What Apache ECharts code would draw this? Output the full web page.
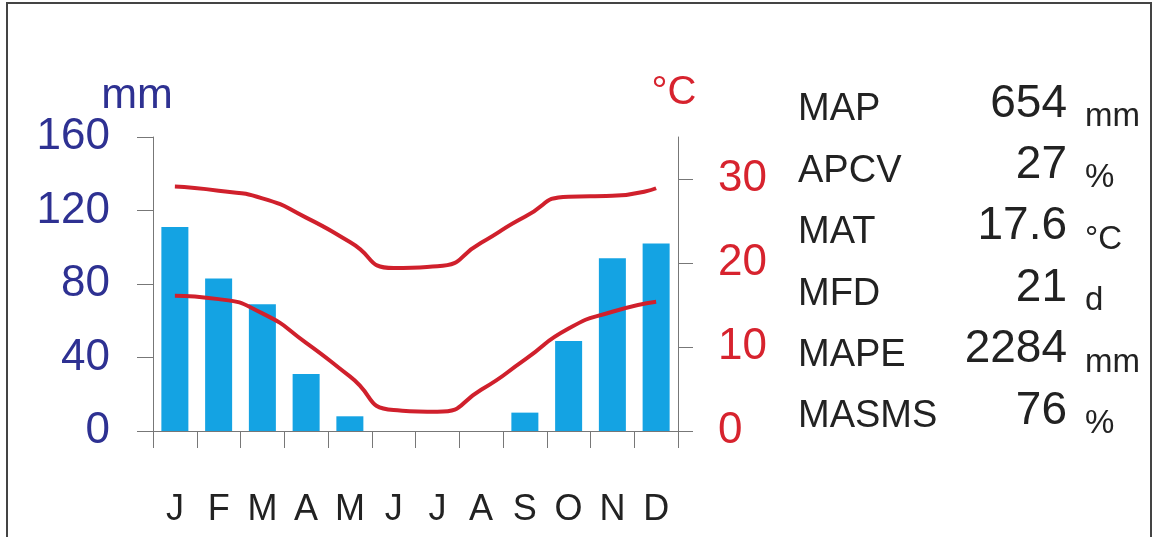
<!DOCTYPE html>
<html lang="en">
<head>
<meta charset="UTF-8" />
<title>Climate diagram</title>
<script src="https://cdn.jsdelivr.net/npm/echarts@6/dist/echarts.min.js"></script>
<style>
  html, body { margin: 0; padding: 0; background: #fff; }
  #app { width: 1157px; height: 537px; }
</style>
</head>
<body>
<div id="app"></div>
<script>
  // monthly values
  const months = ["J", "F", "M", "A", "M", "J", "J", "A", "S", "O", "N", "D"];
  const rain = [111, 83, 69, 31, 8, 0, 0, 0, 10, 49, 94, 102];
  const tMax = [29.1, 28.6, 27.7, 25.4, 22.5, 19.4, 19.6, 22.4, 25.5, 27.9, 28.0, 28.9];
  const tMin = [16.1, 15.7, 14.0, 10.5, 6.5, 2.5, 2.3, 4.9, 8.5, 12.2, 14.2, 15.4];
  const tempTicks = [0, 10, 20, 30];

  // summary block on the right
  const statNames = ["MAP", "APCV", "MAT", "MFD", "MAPE", "MASMS"];
  const statValues = ["654", "27", "17.6", "21", "2284", "76"];
  const statUnits = ["mm", "%", "°C", "d", "mm", "%"];

  const font = "Liberation Sans, Arial, Helvetica, sans-serif";
  const navy = "#2e3192";
  const red = "#d7232e";
  const lineRed = "#d0202c";
  const axisGray = "#777";

  const chart = echarts.init(document.getElementById("app"));

  // text blocks (units + stats)
  const graphics = [
    {
      type: "rect",
      shape: { x: 7, y: 3, width: 1144, height: 600 },
      style: { fill: "none", stroke: "#444", lineWidth: 2 },
      silent: true,
    },
    {
      type: "text", x: 137, y: 96,
      style: { text: "mm", fill: navy, fontSize: 43, fontFamily: font, align: "center", verticalAlign: "middle" },
    },
    {
      type: "text", x: 674, y: 93,
      style: { text: "°C", fill: red, fontSize: 40, fontFamily: font, align: "center", verticalAlign: "middle" },
    },
  ];
  statNames.forEach((name, i) => {
    const base = 123 + i * 61.4;
    graphics.push({
      type: "text", x: 798, y: base - 13,
      style: { text: name, fill: "#222", fontSize: 38, fontFamily: font, align: "left", verticalAlign: "middle" },
    });
    graphics.push({
      type: "text", x: 1067, y: base - 19,
      style: { text: statValues[i], fill: "#222", fontSize: 46, fontFamily: font, align: "right", verticalAlign: "middle" },
    });
    graphics.push({
      type: "text", x: 1085, y: base - 6,
      style: { text: statUnits[i], fill: "#222", fontSize: 33, fontFamily: font, align: "left", verticalAlign: "middle" },
    });
  });

  chart.setOption({
    animation: false,
    textStyle: { fontFamily: font },
    grid: { left: 153, right: 479, top: 137, bottom: 106 },
    xAxis: {
      type: "category",
      data: months,
      boundaryGap: true,
      axisLine: { lineStyle: { color: axisGray, width: 1 } },
      axisTick: { show: true, length: 17, lineStyle: { color: axisGray } },
      axisLabel: { color: "#222", fontSize: 36, margin: 61, fontFamily: font },
    },
    yAxis: [
      {
        type: "value",
        position: "left",
        min: 0,
        max: 160,
        interval: 40,
        splitLine: { show: false },
        axisLine: { show: true, lineStyle: { color: axisGray } },
        axisTick: { show: true, length: 16, lineStyle: { color: axisGray } },
        axisLabel: { color: navy, fontSize: 44, margin: 43, fontFamily: font },
      },
      {
        type: "value",
        position: "right",
        min: 0,
        max: 35,
        interval: 10,
        splitLine: { show: false },
        axisLine: { show: true, lineStyle: { color: axisGray } },
        axisTick: { show: true, length: 15, customValues: tempTicks, lineStyle: { color: axisGray } },
        axisLabel: {
          color: red, fontSize: 44, margin: 40, fontFamily: font,
          customValues: tempTicks,
          formatter: (v) => (v > 30 ? "" : v),
        },
      },
    ],
    series: [
      {
        type: "bar",
        yAxisIndex: 0,
        data: rain,
        barWidth: 27,
        itemStyle: { color: "#14a3e3" },
      },
      {
        type: "line",
        yAxisIndex: 1,
        data: tMax,
        smooth: 0.6,
        symbol: "none",
        lineStyle: { color: lineRed, width: 4 },
      },
      {
        type: "line",
        yAxisIndex: 1,
        data: tMin,
        smooth: 0.6,
        symbol: "none",
        lineStyle: { color: lineRed, width: 4 },
      },
    ],
    graphic: graphics,
  });
</script>
</body>
</html>
